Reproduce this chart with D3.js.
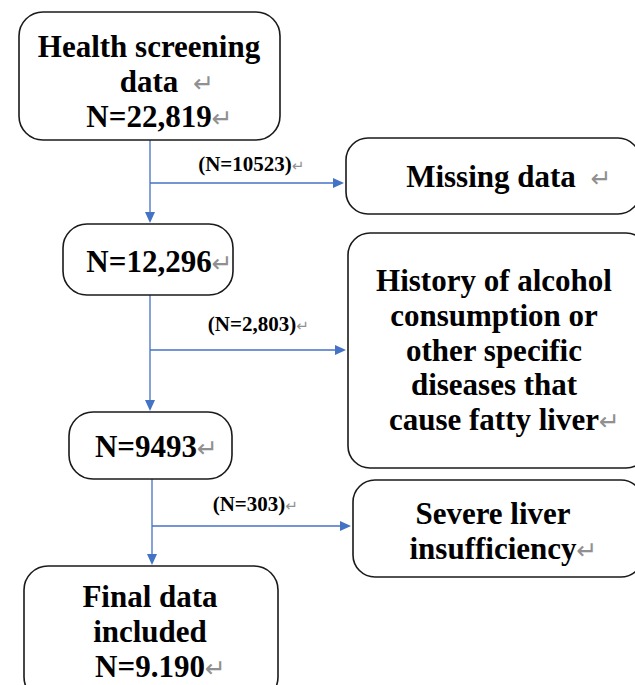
<!DOCTYPE html>
<html>
<head>
<meta charset="utf-8">
<script src="https://cdn.jsdelivr.net/npm/d3@7"></script>
<style>
  body { margin: 0; background: #fff; }
  svg { display: block; }
  .box { fill: #fff; stroke: #1a1a1a; stroke-width: 1.6; }
  .flow { stroke: #4472c4; stroke-width: 1.3; fill: none; }
</style>
</head>
<body>
<div id="chart"></div>
<script>
// stage labels and counts
var stageLines = [
    ["Health screening", "data"],
    [],
    [],
    ["Final data", "included"]
];
var stageCounts = ["22,819", "12,296", "9493", "9.190"];

// excluded at each step
var excludedCounts = ["10523", "2,803", "303"];
var excludedLines = [
    ["Missing data"],
    ["History of alcohol", "consumption or", "other specific", "diseases that", "cause fatty liver"],
    ["Severe liver", "insufficiency"]
];

var width = 635, height = 685;
var serif = "'Liberation Serif', 'Times New Roman', Times, serif";

var svg = d3.select("#chart").append("svg")
    .attr("width", width)
    .attr("height", height);

// layout of the boxes (left column = stages, right column = exclusions)
var stageBox = [
    {x: 19, y: 12, w: 261, h: 128, cx: 149, base: 57},
    {x: 63, y: 224, w: 170, h: 71, cx: 149, base: 272},
    {x: 69, y: 412, w: 163, h: 67, cx: 146, base: 457},
    {x: 24, y: 566, w: 254, h: 135, cx: 150, base: 607}
];
var exclBox = [
    {x: 346, y: 138, w: 294, h: 76, cx: 491, base: 187},
    {x: 348, y: 233, w: 300, h: 235, cx: 494, base: 291},
    {x: 353, y: 480, w: 290, h: 97, cx: 493, base: 524}
];
var branchY = [183, 350, 526],
    trunkX = [150, 150, 152],
    labelX = [245, 252, 249],
    labelY = [171, 331, 511];

var lineGap = 34.8;

var stages = stageCounts.map(function(c, i) {
    var lines = stageLines[i].slice();
    lines.push("N=" + c);
    return {lines: lines, box: stageBox[i]};
});
var exclusions = excludedLines.map(function(l, i) {
    return {lines: l, box: exclBox[i]};
});

// the original keeps the word-processor paragraph marks, hung after the centred text
function addReturnMark(textSel, size, gap) {
    textSel.each(function(d) {
        var node = this,
            len = node.getComputedTextLength(),
            x = +node.getAttribute("x"),
            y = +node.getAttribute("y");
        d3.select(node.parentNode).append("text")
            .attr("x", x + len / 2 + (typeof gap === "function" ? gap(d) : gap))
            .attr("y", y)
            .attr("fill", "#909090")
            .style("font-family", "'DejaVu Sans', sans-serif")
            .style("font-size", size + "px")
            .text("\u21b5");
    });
}

function drawBoxes(sel, data, r) {
    var g = sel.selectAll(null).data(data).enter().append("g");
    g.append("rect")
        .attr("class", "box")
        .attr("x", function(d) { return d.box.x; })
        .attr("y", function(d) { return d.box.y; })
        .attr("width", function(d) { return d.box.w; })
        .attr("height", function(d) { return d.box.h; })
        .attr("rx", r).attr("ry", r);

    var t = g.selectAll("text")
        .data(function(d) {
            return d.lines.map(function(s, j) {
                return {s: s, j: j, n: d.lines.length, box: d.box};
            });
        })
        .enter().append("text")
        .attr("x", function(d) { return d.box.cx; })
        .attr("y", function(d) { return d.box.base + d.j * lineGap; })
        .attr("text-anchor", "middle")
        .style("font-family", serif)
        .style("font-weight", "bold")
        .style("font-size", "31px")
        .attr("fill", "#000")
        .text(function(d) { return d.s; });

    addReturnMark(
        t.filter(function(d) { return d.j === d.n - 1 || d.s === "data"; }),
        25,
        function(d) { return d.s === "data" || d.s === "Missing data" ? 15 : 0; }
    );
}

// flow lines
var flow = svg.append("g");
var arrowLen = 11, arrowHalf = 5;

function arrowDown(x, y) {
    return d3.line()([[x - arrowHalf, y - arrowLen], [x + arrowHalf, y - arrowLen], [x, y]]);
}
function arrowRight(x, y) {
    return d3.line()([[x - arrowLen, y - arrowHalf], [x - arrowLen, y + arrowHalf], [x, y]]);
}

excludedCounts.forEach(function(n, i) {
    var top = stageBox[i].y + stageBox[i].h,
        bot = stageBox[i + 1].y - 1,
        x = trunkX[i],
        yb = branchY[i],
        xr = exclBox[i].x - 2;

    flow.append("line").attr("class", "flow")
        .attr("x1", x).attr("y1", top).attr("x2", x).attr("y2", bot - arrowLen + 1);
    flow.append("path").attr("d", arrowDown(x, bot)).attr("fill", "#4472c4");

    flow.append("line").attr("class", "flow")
        .attr("x1", x).attr("y1", yb).attr("x2", xr - arrowLen + 1).attr("y2", yb);
    flow.append("path").attr("d", arrowRight(xr, yb)).attr("fill", "#4472c4");

    var lbl = flow.append("g").append("text")
        .attr("x", labelX[i]).attr("y", labelY[i])
        .attr("text-anchor", "middle")
        .style("font-family", serif)
        .style("font-weight", "bold")
        .style("font-size", "21px")
        .text("(N=" + n + ")");
    addReturnMark(lbl, 15, 0);
});

drawBoxes(svg.append("g"), stages, 24);
drawBoxes(svg.append("g"), exclusions, 22);
</script>
</body>
</html>
